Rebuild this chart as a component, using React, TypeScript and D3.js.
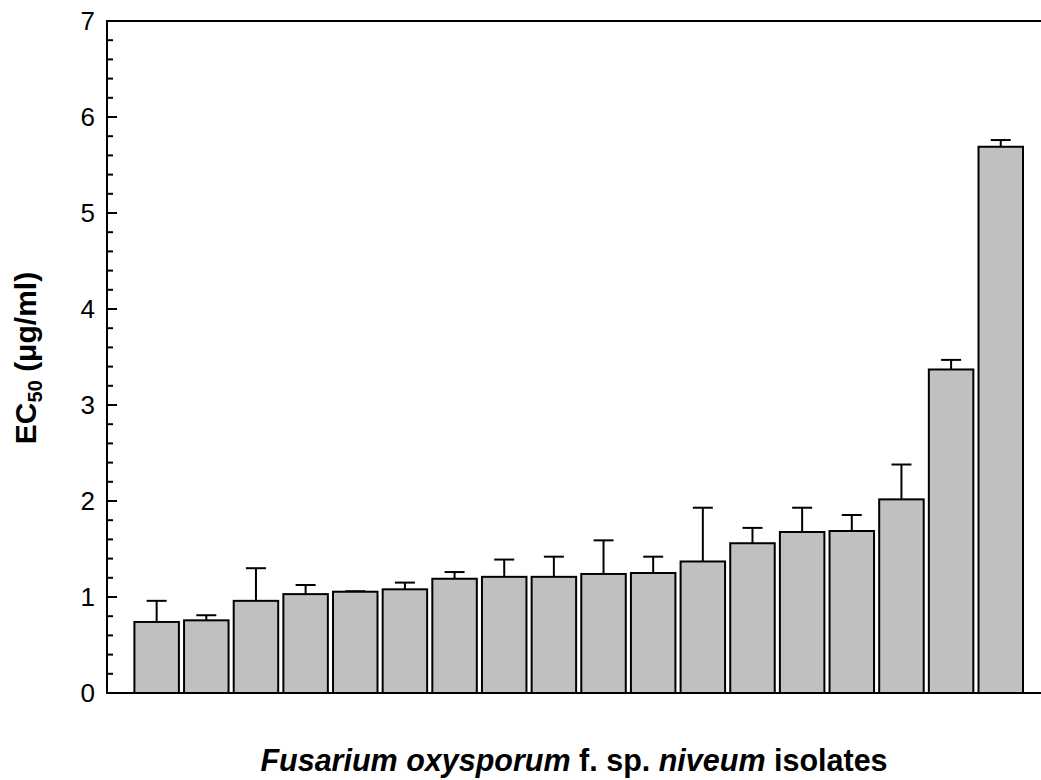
import React from "react";
import * as d3 from "d3";

const isolates = Array.from({ length: 18 }, (_, i) => i + 1);
const ec50 = [0.74, 0.757, 0.96, 1.03, 1.055, 1.08, 1.19, 1.21, 1.21, 1.24, 1.25, 1.37, 1.56, 1.677, 1.6875, 2.017, 3.37, 5.69];
const errUpper = [0.96, 0.81, 1.30, 1.125, 1.06, 1.15, 1.26, 1.39, 1.42, 1.59, 1.42, 1.93, 1.72, 1.93, 1.854, 2.38, 3.47, 5.76];
const yTicks = [0, 1, 2, 3, 4, 5, 6, 7];

const W = 1041;
const H = 780;

export default function App() {
  const x = d3.scaleLinear().domain([0, 19]).range([107, 1050.4]);
  const y = d3.scaleLinear().domain([0, 7]).range([693, 21]);
  const barW = 44.5;
  const minor = d3.range(0, 7.0001, 0.2).filter((v) => Math.abs(v - Math.round(v)) > 1e-6);
  const font = "Liberation Sans, Arial, sans-serif";

  return (
    <svg width={W} height={H} style={{ position: "absolute", left: 0, top: 0, background: "#fff" }}>
      {/* bars */}
      {isolates.map((c, i) => {
        const cx = x(c);
        const top = y(ec50[i]);
        const et = y(errUpper[i]);
        return (
          <g key={c}>
            <line x1={cx} x2={cx} y1={top} y2={et} stroke="#000" strokeWidth={2} />
            <line x1={cx - 10} x2={cx + 10} y1={et} y2={et} stroke="#000" strokeWidth={2} />
            <rect x={cx - barW / 2} y={top} width={barW} height={y(0) - top} fill="#c0c0c0" stroke="#000" strokeWidth={2} />
          </g>
        );
      })}
      {/* axes frame */}
      <line x1={x(0)} x2={x(0)} y1={y(7)} y2={y(0)} stroke="#000" strokeWidth={2} />
      <line x1={x(0) - 1} x2={W} y1={y(7)} y2={y(7)} stroke="#000" strokeWidth={2} />
      <line x1={x(0) - 1} x2={W} y1={y(0)} y2={y(0)} stroke="#000" strokeWidth={2} />
      {yTicks.map((t) => (
        <g key={t}>
          {t > 0 && t < 7 && <line x1={x(0)} x2={x(0) + 10} y1={y(t)} y2={y(t)} stroke="#000" strokeWidth={2} />}
          <text x={95} y={y(t)} dy="0.36em" textAnchor="end" fontFamily={font} fontSize={26} fill="#000">
            {t}
          </text>
        </g>
      ))}
      {minor.map((t) => (
        <line key={t} x1={x(0)} x2={x(0) + 6} y1={y(t)} y2={y(t)} stroke="#000" strokeWidth={2} />
      ))}
      {/* y title */}
      <text transform={`translate(36,${358}) rotate(-90)`} textAnchor="middle" fontFamily={font} fontSize={30} fontWeight="bold" fill="#000">
        EC<tspan fontSize={20} dy={6}>50</tspan>
        <tspan dy={-6}> (μg/ml)</tspan>
      </text>
      {/* x title */}
      <text x={574} y={771} textAnchor="middle" fontFamily={font} fontSize={30.5} fontWeight="bold" fill="#000">
        <tspan fontStyle="italic">Fusarium oxysporum</tspan>
        <tspan> f. sp. </tspan>
        <tspan fontStyle="italic">niveum</tspan>
        <tspan> isolates</tspan>
      </text>
    </svg>
  );
}
